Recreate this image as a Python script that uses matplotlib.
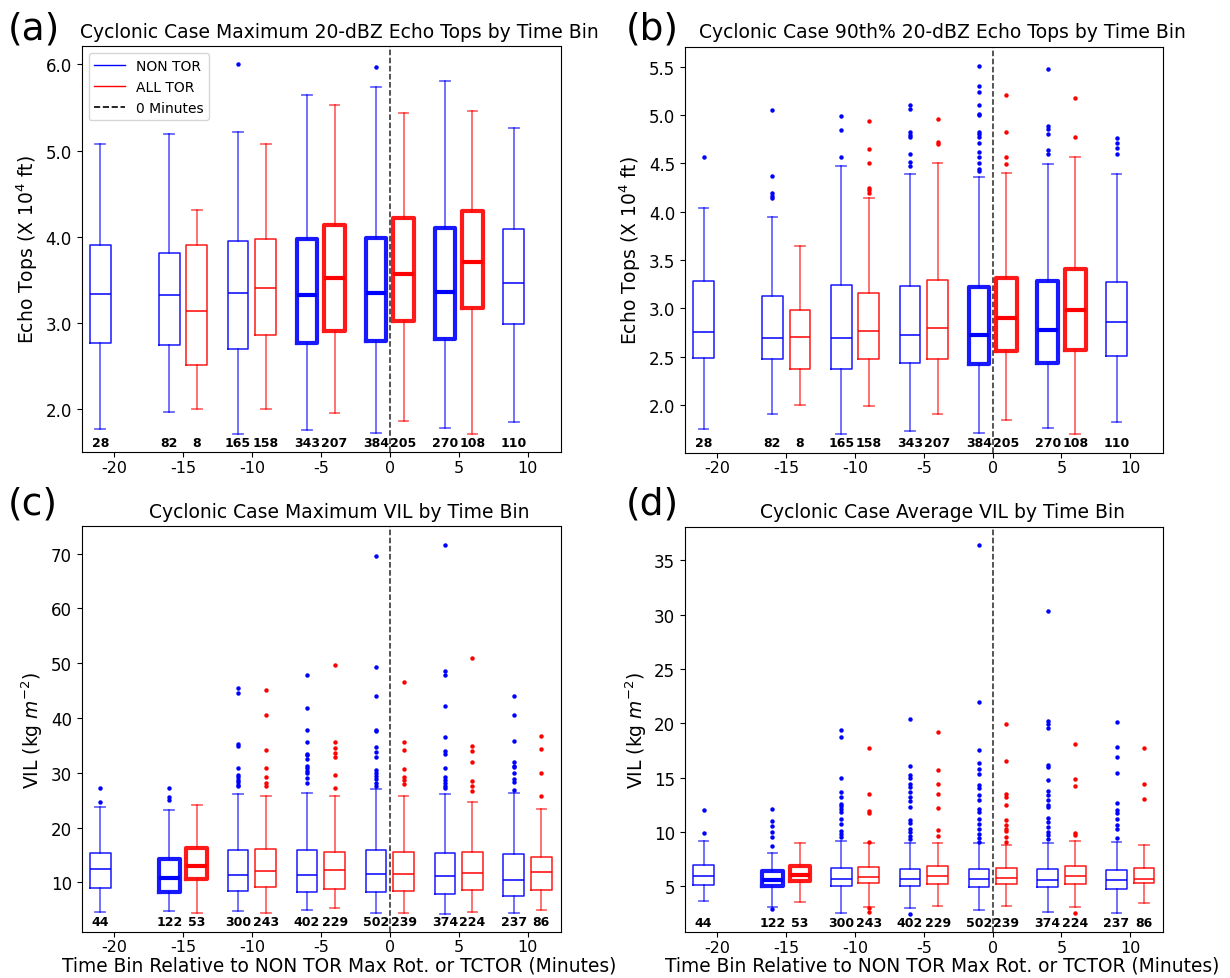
import numpy as np
import matplotlib.pyplot as plt

plt.rcParams['axes.unicode_minus'] = False

# time bins (minutes) and which group each box belongs to
bins = [-21, -16, -14, -11, -9, -6, -4, -1, 1, 4, 6, 9, 11]
group = ['N', 'N', 'T', 'N', 'T', 'N', 'T', 'N', 'T', 'N', 'T', 'N', 'T']

# (a) maximum 20-dBZ echo tops (x 10^4 ft), no box at 11
a_med = [3.33, 3.32, 3.14, 3.35, 3.40, 3.32, 3.52, 3.34, 3.57, 3.36, 3.70, 3.46]
a_q1 = [2.76, 2.74, 2.51, 2.69, 2.86, 2.77, 2.91, 2.79, 3.02, 2.81, 3.17, 2.99]
a_q3 = [3.90, 3.81, 3.90, 3.95, 3.97, 3.97, 4.13, 3.99, 4.22, 4.10, 4.30, 4.09]
a_lo = [1.77, 1.96, 2.00, 1.71, 2.00, 1.75, 1.95, 1.72, 1.86, 1.78, 1.71, 1.85]
a_hi = [5.07, 5.19, 4.31, 5.21, 5.07, 5.65, 5.53, 5.74, 5.43, 5.81, 5.46, 5.26]
a_fl = [[], [], [], [6.0], [], [], [], [5.97], [], [], [], []]
a_n = [28, 82, 8, 165, 158, 343, 207, 384, 205, 270, 108, 110]

# (b) 90th percentile 20-dBZ echo tops
b_med = [2.76, 2.69, 2.71, 2.69, 2.77, 2.73, 2.80, 2.73, 2.90, 2.78, 2.98, 2.86]
b_q1 = [2.49, 2.48, 2.37, 2.37, 2.48, 2.44, 2.48, 2.43, 2.56, 2.44, 2.57, 2.51]
b_q3 = [3.28, 3.13, 2.98, 3.24, 3.16, 3.23, 3.29, 3.22, 3.31, 3.28, 3.41, 3.27]
b_lo = [1.75, 1.91, 2.00, 1.70, 1.99, 1.73, 1.91, 1.71, 1.85, 1.77, 1.70, 1.83]
b_hi = [4.04, 3.94, 3.65, 4.47, 4.14, 4.39, 4.50, 4.36, 4.40, 4.49, 4.57, 4.39]
b_fl = [[4.57],
        [5.05, 4.37, 4.19, 4.16, 4.14],
        [],
        [4.99, 4.84, 4.57],
        [4.94, 4.65, 4.50, 4.24, 4.22, 4.19],
        [5.10, 5.06, 4.82, 4.79, 4.77, 4.60, 4.51, 4.47],
        [4.96, 4.72, 4.70],
        [5.51, 5.30, 5.24, 5.10, 5.01, 5.00, 4.82, 4.80, 4.77, 4.71, 4.62,
         4.56, 4.50, 4.44, 4.42],
        [5.21, 4.82, 4.56, 4.49],
        [5.47, 4.89, 4.85, 4.80, 4.64, 4.60],
        [5.17, 4.77],
        [4.76, 4.71, 4.66, 4.60]]
b_n = [28, 82, 8, 165, 158, 343, 207, 384, 205, 270, 108, 110]

# (c) maximum VIL (kg m^-2)
c_med = [12.5, 10.8, 12.9, 11.4, 12.0, 11.4, 12.2, 11.5, 11.6, 11.2, 11.8, 10.5, 11.9]
c_q1 = [9.0, 8.3, 10.6, 8.4, 9.2, 8.2, 8.8, 8.3, 8.5, 7.9, 8.6, 7.5, 8.6]
c_q3 = [15.3, 14.3, 16.3, 15.9, 16.1, 15.9, 15.6, 15.9, 15.6, 15.3, 15.5, 15.2, 14.7]
c_lo = [4.6, 4.8, 4.4, 4.8, 4.5, 4.9, 5.3, 4.5, 4.5, 4.3, 4.6, 4.5, 4.9]
c_hi = [23.8, 23.2, 24.2, 26.2, 25.8, 26.4, 25.7, 27.0, 25.8, 26.2, 24.7, 26.3, 23.4]
c_fl = [[27.2, 24.7],
        [27.2, 25.5, 25.1],
        [],
        [45.4, 44.6, 35.3, 34.9, 30.8, 29.6, 29.2, 28.7, 28.3, 27.8, 27.6],
        [45.2, 40.6, 34.2, 30.8, 29.3, 28.2, 27.6],
        [47.9, 41.8, 37.9, 35.6, 33.5, 33.2, 32.5, 31.3, 30.8, 30.4, 30.0,
         29.0, 28.2],
        [49.6, 35.7, 34.6, 33.6, 32.8, 29.6, 27.2],
        [69.5, 49.4, 44.1, 37.9, 37.7, 34.8, 33.8, 32.9, 30.6, 30.0, 29.5,
         28.9, 28.1, 27.6],
        [46.6, 35.6, 34.2, 30.7, 29.2, 28.7, 27.9],
        [71.6, 48.6, 47.8, 42.2, 36.6, 33.9, 33.4, 30.8, 29.3, 28.7, 28.1,
         27.6, 27.2],
        [50.9, 34.9, 34.0, 32.0, 28.5, 27.6, 26.6],
        [44.0, 40.5, 35.8, 31.9, 31.3, 31.0, 30.0, 28.9, 28.4, 26.8],
        [36.8, 34.3, 30.0, 25.8]]
c_n = [44, 122, 53, 300, 243, 402, 229, 502, 239, 374, 224, 237, 86]

# (d) average VIL (kg m^-2)
d_med = [5.95, 5.6, 6.0, 5.65, 5.83, 5.7, 5.95, 5.68, 5.75, 5.55, 5.9, 5.55, 5.65]
d_q1 = [5.12, 5.0, 5.43, 5.03, 5.28, 5.0, 5.15, 4.94, 5.15, 4.9, 5.15, 4.78, 5.28]
d_q3 = [6.97, 6.4, 6.85, 6.7, 6.72, 6.57, 6.82, 6.54, 6.63, 6.54, 6.82, 6.48, 6.7]
d_lo = [3.6, 3.1, 3.5, 2.57, 3.06, 2.97, 3.15, 2.8, 3.2, 2.6, 3.06, 2.54, 3.45]
d_hi = [9.15, 8.05, 9.0, 9.15, 8.97, 8.97, 8.97, 8.97, 8.8, 8.97, 9.2, 9.05, 8.75]
d_fl = [[12.0, 9.9],
        [12.1, 11.0, 10.5, 10.0, 9.5, 8.7, 2.85],
        [],
        [19.4, 18.7, 15.0, 13.7, 13.2, 12.6, 12.4, 12.1, 11.8, 11.2, 10.7,
         10.1, 9.8, 9.5],
        [17.7, 13.5, 11.95, 11.7, 9.05, 2.97, 2.6],
        [20.35, 16.1, 15.2, 15.0, 14.4, 14.1, 13.7, 13.2, 12.8, 12.3, 11.1,
         10.8, 10.3, 9.95, 9.6, 9.3, 2.45],
        [19.2, 15.7, 14.4, 13.5, 12.2, 10.2, 9.6],
        [36.45, 22.0, 17.5, 16.35, 15.8, 15.35, 14.3, 14.0, 13.4, 12.9, 12.1,
         11.8, 11.2, 10.75, 10.3, 9.8, 9.4, 9.1],
        [19.9, 16.5, 13.5, 13.25, 12.45, 11.05, 10.6, 10.3, 10.1, 9.5, 9.05],
        [30.35, 20.2, 19.9, 19.6, 16.2, 16.0, 14.75, 13.8, 13.4, 12.9, 12.45,
         12.3, 11.3, 10.9, 10.4, 10.0, 9.7, 9.3],
        [18.1, 14.9, 14.2, 9.9, 9.7, 2.57],
        [20.1, 17.8, 16.85, 15.4, 12.65, 12.0, 11.7, 11.2, 10.65, 10.3, 9.4],
        [17.75, 14.4, 13.05]]
d_n = [44, 122, 53, 300, 243, 402, 229, 502, 239, 374, 224, 237, 86]

titles = ['Cyclonic Case Maximum 20-dBZ Echo Tops by Time Bin',
          'Cyclonic Case 90th% 20-dBZ Echo Tops by Time Bin',
          'Cyclonic Case Maximum VIL by Time Bin',
          'Cyclonic Case Average VIL by Time Bin']
letters = ['(a)', '(b)', '(c)', '(d)']
xticks = [-20, -15, -10, -5, 0, 5, 10]

panels = [
    (a_med, a_q1, a_q3, a_lo, a_hi, a_fl, a_n),
    (b_med, b_q1, b_q3, b_lo, b_hi, b_fl, b_n),
    (c_med, c_q1, c_q3, c_lo, c_hi, c_fl, c_n),
    (d_med, d_q1, d_q3, d_lo, d_hi, d_fl, d_n),
]

# boxes drawn with heavy lines in each panel
thick = [[-6, -4, -1, 1, 4, 6], [-1, 1, 4, 6], [-16, -14], [-16, -14]]
ylims = [(1.5, 6.21), (1.51, 5.70), (1.0, 75.0), (0.75, 38.1)]
yticks = [np.arange(2.0, 6.01, 1.0), np.arange(2.0, 5.51, 0.5),
          np.arange(10, 71, 10), np.arange(5, 36, 5)]
ylabels = ['Echo Tops (X 10$^4$ ft)', 'Echo Tops (X 10$^4$ ft)',
           'VIL (kg $m^{-2}$)', 'VIL (kg $m^{-2}$)']
rects = [[0.0664, 0.5373, 0.3894, 0.4144], [0.5569, 0.5366, 0.3889, 0.4142],
         [0.0664, 0.0473, 0.3894, 0.4141], [0.5569, 0.0467, 0.3889, 0.4143]]
letter_pos = [(0.006, 0.988), (0.509, 0.988), (0.006, 0.503), (0.509, 0.503)]
colors = {'N': '#0000ff', 'T': '#ff0000'}

fig = plt.figure(figsize=(12.3, 9.79), dpi=100)

for k, (med, q1, q3, lo, hi, fl, n) in enumerate(panels):
    ax = fig.add_axes(rects[k])
    for i in range(len(med)):
        pos = bins[i]
        col = colors[group[i]]
        lw = 3.0 if pos in thick[k] else 1.1
        st = [dict(med=med[i], q1=q1[i], q3=q3[i], whislo=lo[i],
                   whishi=hi[i], fliers=fl[i])]
        ax.bxp(st, positions=[pos], widths=1.5, capwidths=0.7,
               boxprops=dict(color=col, lw=lw, alpha=0.9),
               medianprops=dict(color=col, lw=lw),
               whiskerprops=dict(color=col, lw=1.3, alpha=0.6),
               capprops=dict(color=col, lw=1.3, alpha=0.6),
               flierprops=dict(marker='o', markersize=3.2,
                               markerfacecolor=col, markeredgecolor='none'),
               manage_ticks=False)
        ax.text(pos, 0.008, str(n[i]), transform=ax.get_xaxis_transform(),
                ha='center', va='bottom', fontsize=9, fontweight='bold')
    ax.axvline(0, color='k', ls='--', lw=1.1, alpha=0.85)
    ax.set_xlim(-22.35, 12.4)
    ax.set_ylim(ylims[k])
    ax.set_xticks(xticks)
    ax.set_yticks(yticks[k])
    if k < 2:
        ax.set_yticklabels(['%.1f' % v for v in yticks[k]])
    ax.tick_params(axis='y', labelsize=12)
    ax.tick_params(axis='x', labelsize=11.5, pad=2)
    ax.set_ylabel(ylabels[k], fontsize=13.5)
    ax.set_title(titles[k], fontsize=13.5, pad=7, x=0.538)
    if k >= 2:
        ax.set_xlabel('Time Bin Relative to NON TOR Max Rot. or TCTOR (Minutes)',
                      fontsize=13.4)
        ax.xaxis.set_label_coords(0.538, -0.058)
    fig.text(letter_pos[k][0], letter_pos[k][1], letters[k], fontsize=27,
             va='top', ha='left')
    if k == 0:
        ax.plot([], [], color='#0000ff', lw=1, label='NON TOR')
        ax.plot([], [], color='#ff0000', lw=1, label='ALL TOR')
        ax.plot([], [], color='k', ls='--', lw=1.2, label='0 Minutes')
        ax.legend(loc='upper left', fontsize=10, handlelength=2.2)

fig.savefig('out.png', dpi=100)
